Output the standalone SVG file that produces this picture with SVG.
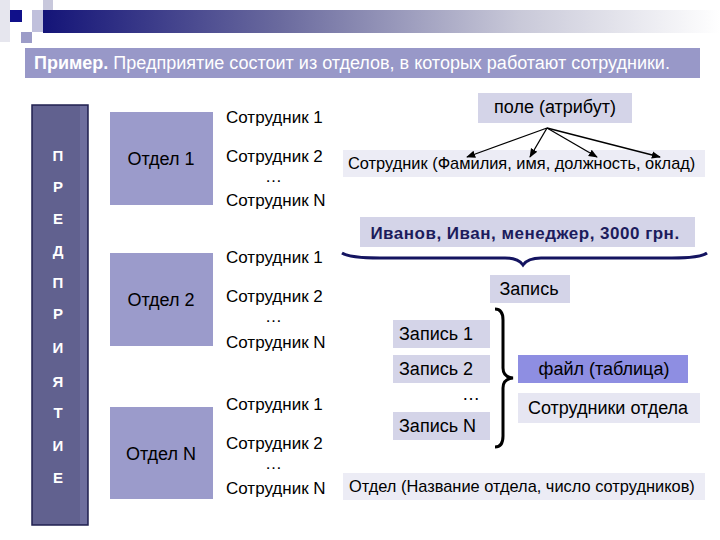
<svg xmlns="http://www.w3.org/2000/svg" width="720" height="540" viewBox="0 0 720 540">
<defs>
<linearGradient id="topbar" x1="0" y1="0" x2="1" y2="0">
<stop offset="0" stop-color="#141478"/>
<stop offset="0.35" stop-color="#6a6a9e"/>
<stop offset="0.7" stop-color="#c8c8d8"/>
<stop offset="1" stop-color="#ffffff"/>
</linearGradient>
<marker id="arr" viewBox="0 0 10 10" refX="9" refY="5" markerWidth="7" markerHeight="7" orient="auto-start-reverse">
<path d="M0,1 L10,5 L0,9 z" fill="#000"/>
</marker>
<style>
text{font-family:"Liberation Sans",Arial,sans-serif;}
.t{font-size:17px;fill:#000;}
.b{font-size:18px;fill:#000;}
.s{font-size:16.4px;fill:#000;}
.dep{fill:#9b9bcb;}
.lt{fill:#d4d4e8;}
.vl{fill:#ececf5;}
.letter{font-size:15px;font-weight:bold;fill:#fff;text-anchor:middle;}
.c{text-anchor:middle;}
</style>
</defs>
<rect width="720" height="540" fill="#fff"/>
<g id="decor">
<rect x="0" y="0" width="10" height="42" fill="#e6e6ee"/>
<rect x="43" y="0" width="10" height="20" fill="#c8c8dc"/>
<rect x="32" y="10" width="11" height="22" fill="#c0c0dc"/>
<rect x="43" y="10" width="677" height="23" fill="url(#topbar)"/>
<rect x="10" y="10" width="12" height="12" fill="#10108a"/>
<rect x="21" y="32" width="11" height="11" fill="#9c9cc8"/>
</g>
<g id="title">
<rect x="25" y="48" width="675" height="30" fill="#9898c8"/>
<text x="34" y="69" font-size="18" fill="#fff"><tspan font-weight="bold">Пример.</tspan> Предприятие состоит из отделов, в которых работают сотрудники.</text>
</g>
<g id="enterprise">
<rect x="32" y="105" width="56" height="420" fill="#61618f" stroke="#202050" stroke-width="1.5"/>
<rect x="80" y="106" width="7" height="418" fill="#6e6e9e"/>
<text class="letter" x="58" y="161">П</text>
<text class="letter" x="58" y="192">Р</text>
<text class="letter" x="58" y="224">Е</text>
<text class="letter" x="58" y="256">Д</text>
<text class="letter" x="58" y="288">П</text>
<text class="letter" x="58" y="319">Р</text>
<text class="letter" x="58" y="353">И</text>
<text class="letter" x="58" y="387">Я</text>
<text class="letter" x="58" y="418">Т</text>
<text class="letter" x="58" y="451">И</text>
<text class="letter" x="58" y="483">Е</text>
</g>
<g id="dept1">
<rect class="dep" x="110" y="112" width="103" height="93"/>
<text class="b c" x="161" y="165">Отдел 1</text>
<text class="t" x="226" y="123">Сотрудник 1</text>
<text class="t" x="226" y="162">Сотрудник 2</text>
<text class="t" x="265" y="182">…</text>
<text class="t" x="226" y="206">Сотрудник N</text>
</g>
<g id="dept2">
<rect class="dep" x="110" y="253" width="103" height="93"/>
<text class="b c" x="161" y="306">Отдел 2</text>
<text class="t" x="226" y="263">Сотрудник 1</text>
<text class="t" x="226" y="302">Сотрудник 2</text>
<text class="t" x="265" y="322">…</text>
<text class="t" x="226" y="348">Сотрудник N</text>
</g>
<g id="deptN">
<rect class="dep" x="110" y="407" width="103" height="92"/>
<text class="b c" x="161" y="460">Отдел N</text>
<text class="t" x="226" y="410">Сотрудник 1</text>
<text class="t" x="226" y="449">Сотрудник 2</text>
<text class="t" x="265" y="469">…</text>
<text class="t" x="226" y="494">Сотрудник N</text>
</g>
<g id="field">
<rect class="lt" x="478" y="93" width="154" height="30"/>
<text class="b c" x="555" y="113">поле (атрибут)</text>
</g>
<g id="employee-schema">
<rect class="vl" x="343" y="150" width="362" height="27"/>
<text class="s" x="348" y="169">Сотрудник (Фамилия, имя, должность, оклад)</text>
</g>
<g id="example">
<rect class="lt" x="360" y="217" width="335" height="30"/>
<text x="525" y="239" font-size="17" font-weight="bold" fill="#1c1c5c" text-anchor="middle" letter-spacing="0.5">Иванов, Иван, менеджер, 3000 грн.</text>
</g>
<g id="record">
<rect class="lt" x="490" y="275" width="80" height="28"/>
<text class="b c" x="529" y="295">Запись</text>
</g>
<g id="records">
<rect class="lt" x="393" y="320" width="97" height="28"/>
<text class="b" x="399" y="340">Запись 1</text>
<rect class="lt" x="393" y="355" width="97" height="28"/>
<text class="b" x="399" y="375">Запись 2</text>
<text class="b" x="462" y="400">…</text>
<rect class="lt" x="393" y="412" width="97" height="28"/>
<text class="b" x="399" y="432">Запись N</text>
</g>
<g id="file">
<rect x="518" y="355" width="170" height="28" fill="#8e8ee2"/>
<text class="b c" x="604" y="375" fill="#1c1c5c">файл (таблица)</text>
</g>
<g id="dept-employees">
<rect x="518" y="393" width="182" height="30" fill="#e6e6f2"/>
<text class="b c" x="608" y="414">Сотрудники отдела</text>
</g>
<g id="dept-schema">
<rect class="vl" x="343" y="473" width="362" height="27"/>
<text class="s" x="349" y="492">Отдел (Название отдела, число сотрудников)</text>
</g>
<g id="connectors" fill="none">
<line x1="547" y1="128" x2="467" y2="157" stroke="#000" stroke-width="1.3" marker-end="url(#arr)"/>
<line x1="547" y1="128" x2="530" y2="157" stroke="#000" stroke-width="1.3" marker-end="url(#arr)"/>
<line x1="547" y1="128" x2="597" y2="157" stroke="#000" stroke-width="1.3" marker-end="url(#arr)"/>
<line x1="547" y1="128" x2="660" y2="157" stroke="#000" stroke-width="1.3" marker-end="url(#arr)"/>
<path d="M342,253 Q350,258 380,258 L505,258 Q518,258 523,265 Q528,258 541,258 L672,258 Q700,258 707,253" stroke="#141460" stroke-width="3"/>
<path d="M495,309 Q503,309 503,320 L503,368 Q503,377 513,378 Q503,379 503,388 L503,436 Q503,447 495,447" stroke="#000" stroke-width="3"/>
</g>
</svg>
